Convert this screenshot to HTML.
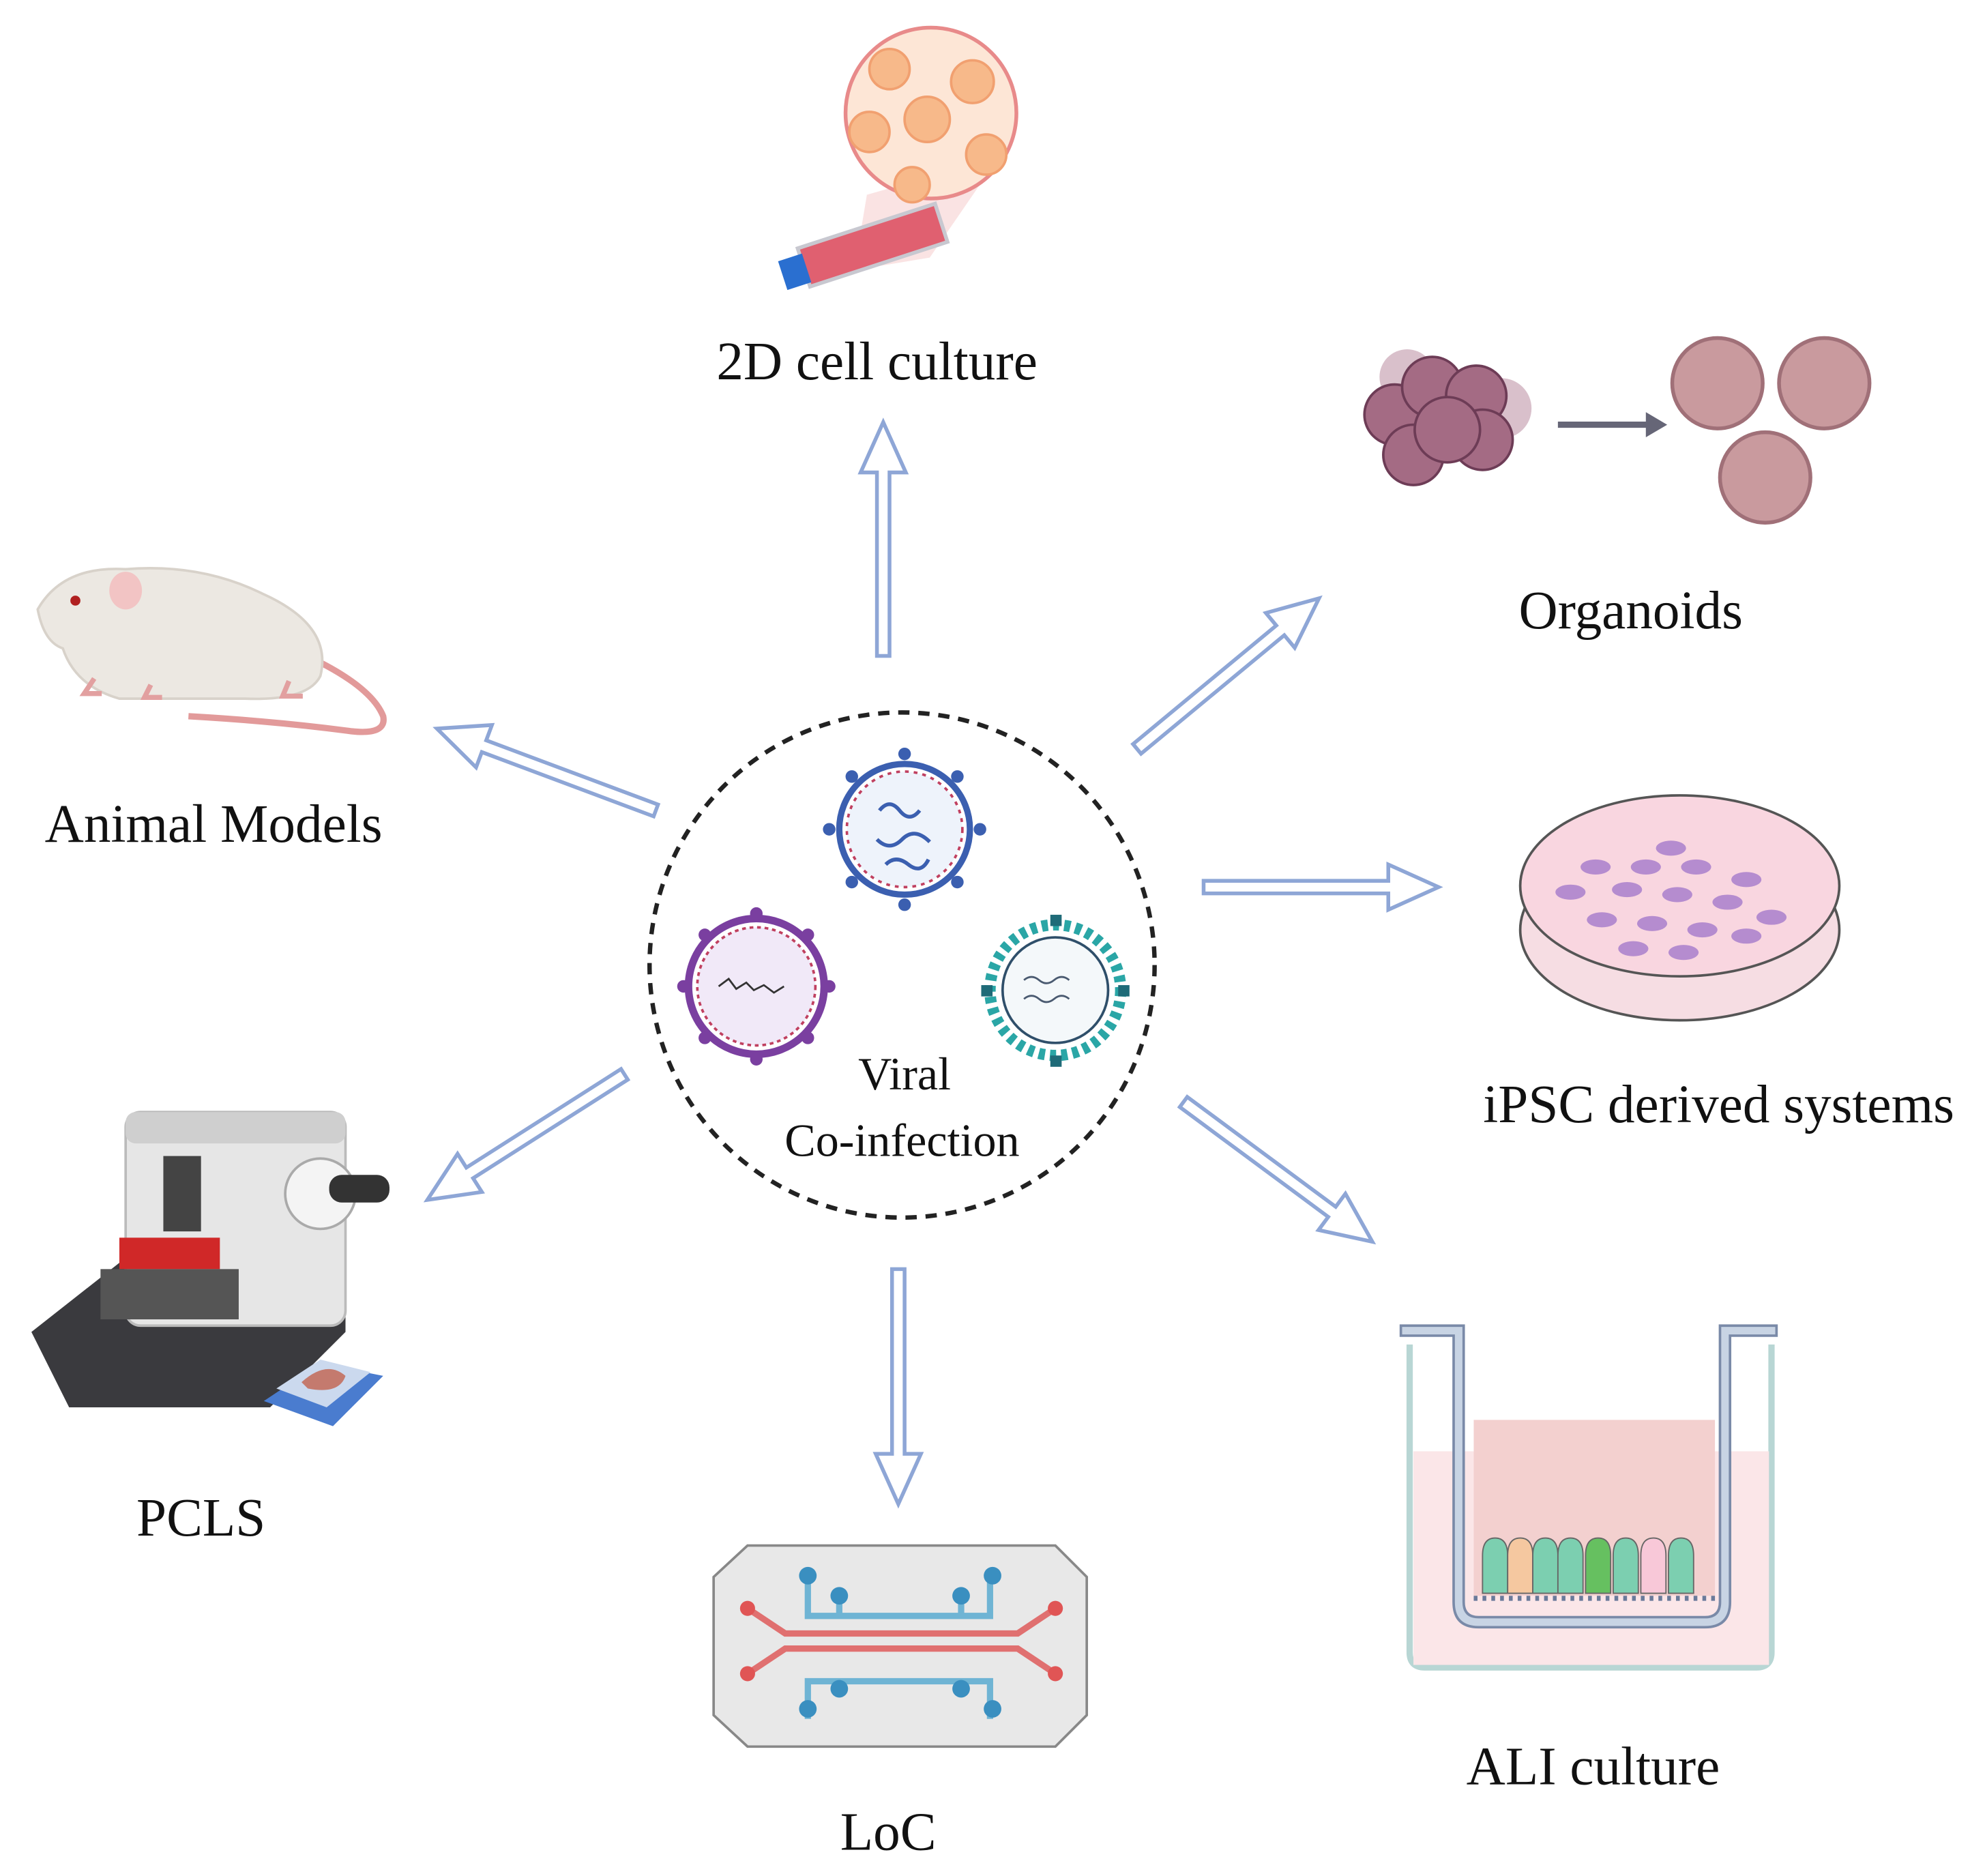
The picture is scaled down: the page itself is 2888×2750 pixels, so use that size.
<!DOCTYPE html>
<html><head><meta charset="utf-8"><style>
html,body{margin:0;padding:0;background:#fff;}
svg{display:block;}
text{font-family:"Liberation Serif",serif;fill:#111;}
</style></head><body>
<svg width="2888" height="2750" viewBox="0 0 1568 1493" preserveAspectRatio="none" xmlns="http://www.w3.org/2000/svg">
<rect width="1568" height="1493" fill="#fff"/>

<circle cx="718" cy="768" r="201" fill="none" stroke="#222" stroke-width="3.5" stroke-dasharray="9,7"/>

<g>
 <circle cx="720" cy="660" r="52" fill="#fff" stroke="#3b5fb0" stroke-width="5"/>
 <circle cx="720" cy="660" r="46" fill="#eef3fb" stroke="#c04060" stroke-width="2" stroke-dasharray="3,4"/>
 <g stroke="#3b5fb0" stroke-width="3" fill="none">
  <path d="M700 645 q8 -10 16 0 q8 10 16 0"/><path d="M698 668 q10 10 20 0 q10 -10 22 2"/><path d="M705 688 q8 -8 18 0 q10 8 16 -4"/>
 </g>
 <g fill="#3b5fb0">
  <circle cx="720" cy="600" r="5"/><circle cx="720" cy="720" r="5"/><circle cx="660" cy="660" r="5"/><circle cx="780" cy="660" r="5"/>
  <circle cx="678" cy="618" r="5"/><circle cx="762" cy="618" r="5"/><circle cx="678" cy="702" r="5"/><circle cx="762" cy="702" r="5"/>
 </g>
 <circle cx="602" cy="785" r="54" fill="#fff" stroke="#7a3fa0" stroke-width="6"/>
 <circle cx="602" cy="785" r="47" fill="#f1e9f8" stroke="#c04060" stroke-width="2" stroke-dasharray="3,3"/>
 <path d="M572 785 l8 -6 l6 8 l8 -5 l6 6 l8 -4 l8 6 l8 -5" stroke="#333" stroke-width="1.5" fill="none"/>
 <g fill="#7a3fa0">
  <circle cx="602" cy="727" r="5"/><circle cx="602" cy="843" r="5"/><circle cx="544" cy="785" r="5"/><circle cx="660" cy="785" r="5"/>
  <circle cx="561" cy="744" r="5"/><circle cx="643" cy="744" r="5"/><circle cx="561" cy="826" r="5"/><circle cx="643" cy="826" r="5"/>
 </g>
 <circle cx="840" cy="788" r="52" fill="#fff" stroke="#2aa6a6" stroke-width="9" stroke-dasharray="5,4"/>
 <circle cx="840" cy="788" r="42" fill="#f4f8fa" stroke="#2f4f6a" stroke-width="2"/>
 <path d="M815 780 q6 -5 12 0 q6 5 12 0 q6 -5 12 0 M815 795 q6 -5 12 0 q6 5 12 0 q6 -5 12 0" stroke="#4a5a70" stroke-width="1.5" fill="none"/>
 <g fill="#1f6b78"><rect x="836" y="728" width="9" height="9"/><rect x="836" y="840" width="9" height="9"/><rect x="781" y="784" width="9" height="9"/><rect x="890" y="784" width="9" height="9"/></g>
</g>
<text x="720" y="867" font-size="37" text-anchor="middle">Viral</text>
<text x="718" y="920" font-size="37" text-anchor="middle">Co-infection</text>

<g fill="#fff" stroke="#8ea6d6" stroke-width="3" stroke-linejoin="miter">
 <g transform="translate(703,522) rotate(-90)"><polygon points="0,-5 146,-5 146,-18 186,0 146,18 146,5 0,5"/></g>
 <g transform="translate(905,596) rotate(-39.6)"><polygon points="0,-5 148,-5 148,-18 188,0 148,18 148,5 0,5"/></g>
 <g transform="translate(522,645) rotate(200.5)"><polygon points="0,-5 146,-5 146,-18 186,0 146,18 146,5 0,5"/></g>
 <g transform="translate(958,706) rotate(0)"><polygon points="0,-5 147,-5 147,-18 187,0 147,18 147,5 0,5"/></g>
 <g transform="translate(497,855) rotate(147.5)"><polygon points="0,-5 146,-5 146,-18 186,0 146,18 146,5 0,5"/></g>
 <g transform="translate(942,877) rotate(36.5)"><polygon points="0,-5 147,-5 147,-18 187,0 147,18 147,5 0,5"/></g>
 <g transform="translate(715,1010) rotate(90)"><polygon points="0,-5 147,-5 147,-18 187,0 147,18 147,5 0,5"/></g>
</g>

<polygon points="690,155 795,125 740,205 680,215" fill="#f6d0d0" opacity="0.6"/>
<circle cx="741" cy="90" r="68" fill="#fde6d6" stroke="#e88a8a" stroke-width="3"/>
<g fill="#f7b98a" stroke="#f1a070" stroke-width="2">
 <circle cx="708" cy="55" r="16"/><circle cx="774" cy="65" r="17"/><circle cx="738" cy="95" r="18"/><circle cx="692" cy="105" r="16"/><circle cx="785" cy="123" r="16"/><circle cx="726" cy="147" r="14"/>
</g>
<g transform="translate(630,215) rotate(-18)">
 <rect x="10" y="-15" width="115" height="32" fill="#e06070" stroke="#c8c8d0" stroke-width="3"/>
 <rect x="-8" y="-10" width="20" height="24" fill="#2a6fd0"/>
</g>
<text x="698" y="302" font-size="43" text-anchor="middle">2D cell culture</text>

<g fill="#a46b84" stroke="#6d3c56" stroke-width="2">
 <circle cx="1120" cy="300" r="22" fill="#d9c0cb" stroke="none"/><circle cx="1195" cy="325" r="24" fill="#d9c0cb" stroke="none"/>
 <circle cx="1110" cy="330" r="24"/><circle cx="1140" cy="308" r="24"/><circle cx="1175" cy="315" r="24"/>
 <circle cx="1125" cy="362" r="24"/><circle cx="1180" cy="350" r="24"/><circle cx="1152" cy="342" r="26"/>
</g>
<line x1="1240" y1="338" x2="1312" y2="338" stroke="#667" stroke-width="5"/>
<polygon points="1310,328 1327,338 1310,348" fill="#667"/>
<g fill="#c99a9e" stroke="#a07078" stroke-width="3">
 <circle cx="1367" cy="305" r="36"/><circle cx="1452" cy="305" r="36"/><circle cx="1405" cy="380" r="36"/>
</g>
<text x="1298" y="500" font-size="43" text-anchor="middle">Organoids</text>

<path d="M240 520 q55 25 65 50 q3 15 -25 12 q-60 -8 -130 -12" fill="none" stroke="#e29a9a" stroke-width="5"/>
<path d="M30 485 q20 -35 70 -32 q60 -5 110 20 q55 25 45 65 q-10 20 -60 18 h-100 q-35 -10 -45 -40 q-15 -5 -20 -31z" fill="#ece8e2" stroke="#d8d2ca" stroke-width="2"/>
<ellipse cx="100" cy="470" rx="13" ry="15" fill="#f2c4c4"/>
<circle cx="60" cy="478" r="4" fill="#b02020"/>
<path d="M75 540 l-8 12 h14 M120 545 l-5 10 h14 M230 542 l-5 12 h16" stroke="#e2a0a0" stroke-width="4" fill="none"/>
<text x="170" y="670" font-size="43" text-anchor="middle">Animal Models</text>

<ellipse cx="1337" cy="740" rx="127" ry="72" fill="#f6dde3" stroke="#555" stroke-width="2"/>
<ellipse cx="1337" cy="705" rx="127" ry="72" fill="#f9d6e0" stroke="#555" stroke-width="2"/>
<g fill="#b58ccf">
 <ellipse cx="1270" cy="690" rx="12" ry="6"/><ellipse cx="1310" cy="690" rx="12" ry="6"/><ellipse cx="1350" cy="690" rx="12" ry="6"/><ellipse cx="1390" cy="700" rx="12" ry="6"/>
 <ellipse cx="1250" cy="710" rx="12" ry="6"/><ellipse cx="1295" cy="708" rx="12" ry="6"/><ellipse cx="1335" cy="712" rx="12" ry="6"/><ellipse cx="1375" cy="718" rx="12" ry="6"/><ellipse cx="1410" cy="730" rx="12" ry="6"/>
 <ellipse cx="1275" cy="732" rx="12" ry="6"/><ellipse cx="1315" cy="735" rx="12" ry="6"/><ellipse cx="1355" cy="740" rx="12" ry="6"/><ellipse cx="1390" cy="745" rx="12" ry="6"/>
 <ellipse cx="1300" cy="755" rx="12" ry="6"/><ellipse cx="1340" cy="758" rx="12" ry="6"/><ellipse cx="1330" cy="675" rx="12" ry="6"/>
</g>
<text x="1368" y="893" font-size="43" text-anchor="middle">iPSC derived systems</text>

<path d="M25 1060 l70 -55 h180 v55 l-60 60 h-160 z" fill="#3a3a3e"/>
<rect x="100" y="885" width="175" height="170" rx="12" fill="#e6e6e6" stroke="#bbb" stroke-width="2"/>
<rect x="100" y="885" width="175" height="25" rx="8" fill="#cfcfcf"/>
<rect x="130" y="920" width="30" height="60" fill="#444"/>
<rect x="95" y="985" width="80" height="25" fill="#d02828"/>
<rect x="80" y="1010" width="110" height="40" fill="#555"/>
<circle cx="255" cy="950" r="28" fill="#f4f4f4" stroke="#aaa" stroke-width="2"/>
<rect x="262" y="935" width="48" height="22" rx="10" fill="#333"/>
<polygon points="210,1115 255,1085 305,1095 265,1135" fill="#4a7ccf"/>
<polygon points="220,1105 255,1082 295,1092 260,1120" fill="#cbd9ee"/>
<path d="M240 1100 q20 -18 35 -5 q-5 15 -30 10z" fill="#c47a6e"/>
<text x="160" y="1222" font-size="43" text-anchor="middle">PCLS</text>

<polygon points="595,1230 840,1230 865,1255 865,1365 840,1390 595,1390 568,1365 568,1255" fill="#e8e8e8" stroke="#888" stroke-width="2"/>
<g fill="none" stroke-width="5">
 <path d="M595 1280 l30 20 h185 l30 -20 M595 1332 l30 -20 h185 l30 20" stroke="#e07070"/>
 <path d="M643 1256 v30 h145 v-30 M668 1272 v14 M765 1272 v14 M643 1368 v-30 h145 v30 M668 1344 v-6 M765 1344 v-6" stroke="#6fb4d4"/>
</g>
<g fill="#e05555"><circle cx="595" cy="1280" r="6"/><circle cx="595" cy="1332" r="6"/><circle cx="840" cy="1280" r="6"/><circle cx="840" cy="1332" r="6"/></g>
<g fill="#3a8fc0"><circle cx="643" cy="1254" r="7"/><circle cx="668" cy="1270" r="7"/><circle cx="765" cy="1270" r="7"/><circle cx="790" cy="1254" r="7"/><circle cx="643" cy="1360" r="7"/><circle cx="668" cy="1344" r="7"/><circle cx="765" cy="1344" r="7"/><circle cx="790" cy="1360" r="7"/></g>
<text x="707" y="1472" font-size="43" text-anchor="middle">LoC</text>

<path d="M1122 1070 v245 q0 12 12 12 h264 q12 0 12 -12 v-245" fill="#fff" stroke="#b8d6d4" stroke-width="5"/>
<rect x="1125" y="1155" width="283" height="170" fill="#fbe6e8"/>
<path d="M1115 1055 h50 v220 q0 12 12 12 h180 q12 0 12 -12 v-220 h45 v8 h-37 v212 q0 20 -20 20 h-180 q-20 0 -20 -20 v-212 h-42 z" fill="#c8d4e4" stroke="#7a8aa8" stroke-width="2"/>
<rect x="1173" y="1130" width="192" height="140" fill="#f3d0cf"/>
<g stroke="#666" stroke-width="1">
 <path d="M1180 1238 q0 -14 10 -14 q10 0 10 14 v30 h-20z" fill="#7ccfb0"/>
 <path d="M1200 1238 q0 -14 10 -14 q10 0 10 14 v30 h-20z" fill="#f5c8a0"/>
 <path d="M1220 1238 q0 -14 10 -14 q10 0 10 14 v30 h-20z" fill="#7ccfb0"/>
 <path d="M1240 1238 q0 -14 10 -14 q10 0 10 14 v30 h-20z" fill="#7ccfb0"/>
 <path d="M1262 1238 q0 -14 10 -14 q10 0 10 14 v30 h-20z" fill="#66c060"/>
 <path d="M1284 1238 q0 -14 10 -14 q10 0 10 14 v30 h-20z" fill="#7ccfb0"/>
 <path d="M1306 1238 q0 -14 10 -14 q10 0 10 14 v30 h-20z" fill="#f8c8d8"/>
 <path d="M1328 1238 q0 -14 10 -14 q10 0 10 14 v30 h-20z" fill="#7ccfb0"/>
</g>
<line x1="1173" y1="1272" x2="1365" y2="1272" stroke="#6a7a9a" stroke-width="4" stroke-dasharray="3,4"/>
<text x="1268" y="1420" font-size="43" text-anchor="middle">ALI culture</text>
</svg>
</body></html>
